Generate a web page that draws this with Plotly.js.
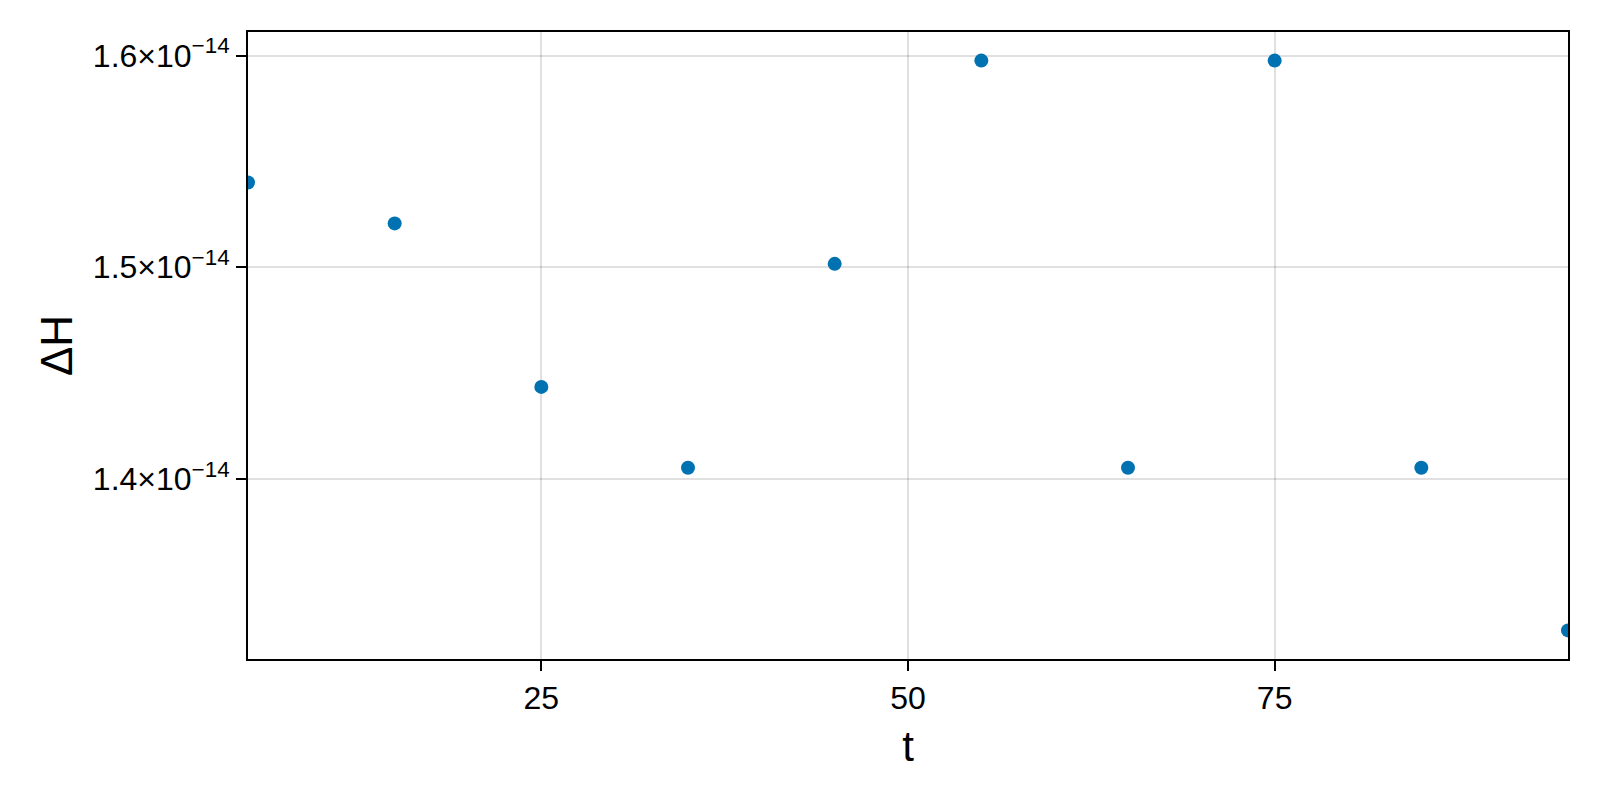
<!DOCTYPE html>
<html>
<head>
<meta charset="utf-8">
<script src="https://cdn.plot.ly/plotly-3.0.1.min.js"></script>
<style>html,body{margin:0;padding:0;background:#fff;}#chart{width:1600px;height:800px;}</style>
</head>
<body>
<div id="chart"></div>
<script>
// Data
const t = [5, 15, 25, 35, 45, 55, 65, 75, 85, 95];
const deltaH = [1.5400e-14, 1.5207e-14, 1.4435e-14, 1.4053e-14, 1.5016e-14,
                1.5976e-14, 1.4053e-14, 1.5976e-14, 1.4053e-14, 1.3285e-14];
const xTickVals = [25, 50, 75];
const yTickVals = [1.4e-14, 1.5e-14, 1.6e-14];
const yTickText = ["1.4×10<sup>−14</sup>", "1.5×10<sup>−14</sup>", "1.6×10<sup>−14</sup>"];

const font = "Liberation Sans, Arial, Helvetica, sans-serif";

const trace = {
  x: t, y: deltaH, type: "scatter", mode: "markers",
  marker: {color: "#0072B2", size: 14},
  showlegend: false, cliponaxis: true
};

const layout = {
  width: 1600, height: 800,
  margin: {l: 248, r: 32, t: 32, b: 141},
  paper_bgcolor: "#fff", plot_bgcolor: "#fff",
  font: {family: font, color: "#000", size: 32},
  xaxis: {
    range: [5, 95], tickvals: xTickVals, ticktext: xTickVals.map(String),
    showgrid: true, gridcolor: "rgba(0,0,0,0.12)", gridwidth: 2,
    zeroline: false, showline: true, linecolor: "#000", linewidth: 2, mirror: true,
    ticks: "outside", ticklen: 10, tickwidth: 2, tickcolor: "#000",
    tickfont: {size: 32, family: font},
    title: {text: "t", font: {size: 42, family: font}, standoff: 16},
    automargin: false
  },
  yaxis: {
    range: [1.3150e-14, 1.6111e-14], tickvals: yTickVals, ticktext: yTickText,
    showgrid: true, gridcolor: "rgba(0,0,0,0.12)", gridwidth: 2,
    zeroline: false, showline: true, linecolor: "#000", linewidth: 2, mirror: true,
    ticks: "outside", ticklen: 10, tickwidth: 2, tickcolor: "#000",
    tickfont: {size: 32, family: font},
    title: {text: "ΔH", font: {size: 44, family: font}, standoff: 6},
    automargin: false
  }
};

Plotly.newPlot("chart", [trace], layout, {displayModeBar: false, staticPlot: true});
</script>
</body>
</html>
